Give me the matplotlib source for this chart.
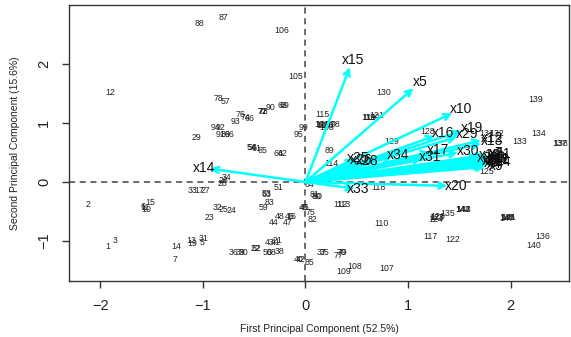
import matplotlib
matplotlib.use("Agg")
import matplotlib.pyplot as plt

plt.rcParams['font.family'] = ['Liberation Sans', 'DejaVu Sans']

# observation scores (PC1, PC2) with their row numbers
obs_labels = [88, 87, 106, 105, 12, 78, 57, 76, 74, 93, 66, 71, 73, 72, 90, 68, 69,
              94, 92, 91, 86, 96, 29, 99, 95, 54, 61, 65, 56, 64, 62,
              34, 28, 26, 33, 17, 27, 51, 53, 63, 83, 59, 48, 46, 16, 47, 44,
              49, 45, 75, 82, 2, 6, 10, 11, 15, 1, 3, 14, 7, 13, 19, 31, 5,
              23, 32, 25, 24, 43, 41, 21, 50, 58, 38, 22, 52, 36, 39, 30,
              40, 42, 85, 84, 80, 81, 60, 112, 113, 110, 117, 122, 118, 89, 114,
              115, 101, 104, 102, 116, 97, 98, 103, 119, 111, 120, 121, 130, 128,
              129, 131, 132, 139, 134, 133, 137, 138, 125, 123, 126, 124, 127,
              135, 142, 143, 144, 145, 146, 141, 147, 136, 140, 107, 108, 109,
              37, 35, 79, 77, 70]
pc1 = [-1.03, -0.80, -0.23, -0.10, -1.90, -0.85, -0.78, -0.63, -0.58, -0.68, -0.55, -0.42, -0.41, -0.42, -0.34, -0.22, -0.21,
       -0.88, -0.83, -0.83, -0.78, -0.74, -1.06, -0.02, -0.07, -0.53, -0.48, -0.42, -0.52, -0.26, -0.22,
       -0.77, -0.81, -0.80, -1.10, -1.04, -0.97, -0.26, -0.38, -0.38, -0.35, -0.41, -0.25, -0.15, -0.14, -0.17, -0.31,
       -0.02, -0.01, 0.05, 0.07, -2.12, -1.58, -1.55, -1.56, -1.51, -1.93, -1.86, -1.26, -1.27, -1.11, -1.10, -0.99, -1.01,
       -0.94, -0.86, -0.80, -0.72, -0.35, -0.29, -0.27, -0.37, -0.33, -0.25, -0.49, -0.48, -0.70, -0.63, -0.60,
       -0.07, -0.05, 0.04, 0.04, 0.11, 0.09, 0.12, 0.34, 0.37, 0.74, 1.22, 1.43, 0.71, 0.23, 0.25,
       0.16, 0.16, 0.18, 0.17, 0.20, 0.24, 0.29, 0.21, 0.61, 0.62, 0.65, 0.69, 0.76, 1.19,
       0.84, 1.77, 1.86, 2.24, 2.27, 2.09, 2.48, 2.49, 1.77, 1.28, 1.29, 1.27, 1.28,
       1.39, 1.53, 1.54, 1.53, 1.96, 1.97, 1.98, 1.96, 2.31, 2.22, 0.79, 0.48, 0.37,
       0.16, 0.19, 0.36, 0.32, 0.35]
pc2 = [2.68, 2.78, 2.56, 1.78, 1.51, 1.41, 1.37, 1.15, 1.10, 1.03, 1.08, 1.20, 1.20, 1.19, 1.27, 1.29, 1.29,
       0.93, 0.92, 0.81, 0.81, 0.81, 0.75, 0.92, 0.81, 0.59, 0.56, 0.54, 0.58, 0.49, 0.49,
       0.08, -0.02, 0.02, -0.14, -0.14, -0.14, -0.10, -0.19, -0.22, -0.34, -0.44, -0.58, -0.59, -0.58, -0.68, -0.69,
       -0.44, -0.44, -0.51, -0.63, -0.39, -0.42, -0.47, -0.44, -0.34, -1.10, -1.00, -1.10, -1.32, -1.00, -1.05, -0.95, -1.03,
       -0.61, -0.44, -0.47, -0.49, -1.03, -1.03, -1.00, -1.20, -1.19, -1.17, -1.12, -1.12, -1.20, -1.20, -1.20,
       -1.31, -1.31, -1.37, -0.05, -0.24, -0.22, -0.25, -0.39, -0.39, -0.71, -0.92, -0.98, -0.10, 0.54, 0.32,
       1.15, 0.98, 0.95, 0.97, 0.95, 0.97, 0.97, 0.93, 1.10, 1.10, 1.10, 1.12, 1.51, 0.86,
       0.68, 0.83, 0.83, 1.39, 0.83, 0.68, 0.66, 0.66, 0.17, -0.61, -0.59, -0.63, -0.60,
       -0.53, -0.46, -0.46, -0.47, -0.61, -0.61, -0.61, -0.62, -0.92, -1.08, -1.47, -1.44, -1.51,
       -1.19, -1.19, -1.20, -1.25, -1.20]

# variable loadings (label positions, scaled)
var_labels = ['x15', 'x5', 'x10', 'x16', 'x29', 'x19', 'x12', 'x13', 'x17', 'x31', 'x30',
              'x18', 'x23', 'x21', 'x27', 'x22', 'x24', 'x32', 'x1', 'x2', 'x3', 'x4',
              'x6', 'x7', 'x8', 'x11', 'x9', 'x34', 'x25', 'x26', 'x28', 'x33', 'x20', 'x14']
load1 = [0.46, 1.12, 1.52, 1.34, 1.57, 1.62, 1.82, 1.82, 1.29, 1.21, 1.58,
         1.80, 1.85, 1.90, 1.88, 1.83, 1.90, 1.78, 1.85, 1.87, 1.80, 1.84,
         1.88, 1.86, 1.81, 1.89, 1.86, 0.90, 0.51, 0.54, 0.60, 0.51, 1.47, -0.99]
load2 = [2.07, 1.69, 1.24, 0.83, 0.81, 0.92, 0.75, 0.69, 0.54, 0.42, 0.53,
         0.46, 0.41, 0.47, 0.37, 0.36, 0.34, 0.41, 0.44, 0.40, 0.38, 0.30,
         0.43, 0.49, 0.33, 0.39, 0.27, 0.46, 0.41, 0.37, 0.36, -0.12, -0.07, 0.24]

fig = plt.figure(figsize=(5.71, 3.37), dpi=100)
ax = fig.add_axes([0.1208, 0.1662, 0.8757, 0.819])

ax.axhline(0, color='#444444', ls=(0, (4, 3)), lw=1.1, zorder=1)
ax.axvline(0, color='#444444', ls=(0, (4, 3)), lw=1.1, zorder=1)

for lab, a, b in zip(obs_labels, pc1, pc2):
    ax.text(a, b, str(lab), fontsize=6.3, color='#222222', ha='center', va='center', zorder=2)

for lab, a, b in zip(var_labels, load1, load2):
    ax.annotate('', xy=(a * 0.94, b * 0.94), xytext=(0, 0),
                arrowprops=dict(arrowstyle='->', color='#00FFFF', lw=1.8,
                                mutation_scale=11, shrinkA=0, shrinkB=0), zorder=3)
for lab, a, b in zip(var_labels, load1, load2):
    ax.text(a, b, lab, fontsize=10, color='#111111', ha='center', va='center', zorder=4)

ax.set_xlim(-2.305, 2.568)
ax.set_ylim(-1.678, 3.0)
ax.set_xticks([-2, -1, 0, 1, 2])
ax.set_yticks([-1, 0, 1, 2])
ax.tick_params(axis='both', direction='out', length=5, width=1, color='#333333',
               labelsize=10.5, labelcolor='#222222', pad=8)
for t in ax.get_yticklabels():
    t.set_rotation(90)
    t.set_va('center')
for s in ax.spines.values():
    s.set_color('#333333')
    s.set_linewidth(1)

ax.set_xlabel('First Principal Component (52.5%)', fontsize=7.5, color='#222222', labelpad=8)
ax.set_ylabel('Second Principal Component (15.6%)', fontsize=7.5, color='#222222', labelpad=12)

fig.savefig('out.png', dpi=100)
